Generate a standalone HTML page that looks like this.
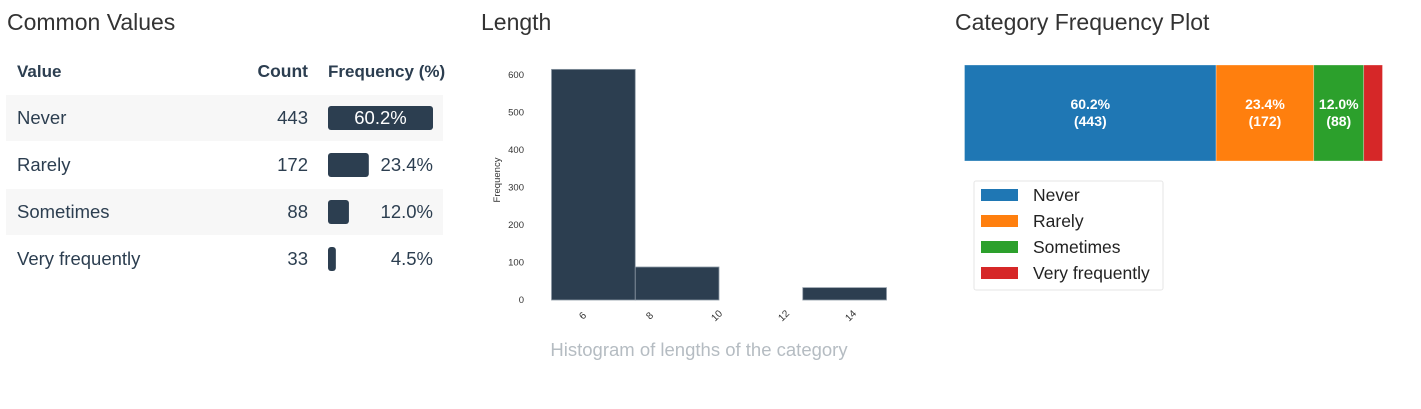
<!DOCTYPE html>
<html><head><meta charset="utf-8"><style>
html,body{margin:0;padding:0;background:#fff;width:1421px;height:409px;overflow:hidden}
svg{display:block}
text{font-family:"Liberation Sans",sans-serif}
</style></head><body>
<svg id="s" width="1421" height="409" xmlns="http://www.w3.org/2000/svg">
<text x="7" y="30" font-size="23" fill="#333">Common Values</text>
<text x="481" y="30" font-size="23" fill="#333">Length</text>
<text x="955" y="30" font-size="23" fill="#333">Category Frequency Plot</text>
<g id="table">
<text x="17" y="77" font-size="17" font-weight="bold" fill="#2c3e50">Value</text>
<text x="308" y="77" font-size="17.5" font-weight="bold" fill="#2c3e50" text-anchor="end">Count</text>
<text x="328" y="77" font-size="17" font-weight="bold" fill="#2c3e50">Frequency (%)</text>
</g>
<g id="hist"></g>
<text x="699" y="356" font-size="18.5" fill="#b5bcc2" text-anchor="middle">Histogram of lengths of the category</text>
<g id="stack"></g>
</svg>
<script>
const NS="http://www.w3.org/2000/svg";
function mk(tag,attrs,parent,txt){const e=document.createElementNS(NS,tag);for(const k in attrs)e.setAttribute(k,attrs[k]);if(txt!==undefined)e.textContent=txt;parent.appendChild(e);return e;}
// ---- data ----
const categories=["Never","Rarely","Sometimes","Very frequently"];
const counts=[443,172,88,33];
const percents=[60.2,23.4,12.0,4.5];
const histBinStarts=[5,7.5,10,12.5];
const histCounts=[615,88,0,33];
const histBinWidth=2.5;
const yTicks=[0,100,200,300,400,500,600];
const xTicks=[6,8,10,12,14];
const colors=["#1f77b4","#ff7f0e","#2ca02c","#d62728"];

// ---- table ----
const tb=document.getElementById('table');
const maxPct=Math.max(...percents);
categories.forEach((c,i)=>{
  const y0=95+i*47;
  if(i%2===0){const r=mk('rect',{x:6,y:y0,width:437,height:46,fill:'#f7f7f7'},tb);
    
    }
  const t=mk('text',{x:17,y:y0+29,'font-size':18.5,fill:'#2c3e50'},tb,c);
  
  
  const n=mk('text',{x:308,y:y0+29,'font-size':18.5,fill:'#2c3e50','text-anchor':'end'},tb,counts[i]);
  
  
  const w=Math.max(7,105*percents[i]/maxPct);
  const b=mk('rect',{x:328,y:y0+11,width:w,height:24,rx:3,fill:'#2c3e50'},tb);
  
  
  const inside=percents[i]===maxPct;
  const p=mk('text',{x:inside?328+w/2:433,y:y0+29,'font-size':18.5,fill:inside?'#fff':'#2c3e50','text-anchor':inside?'middle':'end'},tb,percents[i].toFixed(1)+'%');
  
  
});

// ---- histogram ----
const hg=document.getElementById('hist');
const xS=v=>585+(v-6)*33.5;
const yS=v=>300-v*0.375;
yTicks.forEach(v=>{const t=mk('text',{x:524,y:yS(v)+3,'font-size':9.5,fill:'#333','text-anchor':'end'},hg,v);
  
  });
const yl=mk('text',{x:0,y:0,'font-size':9.5,fill:'#333','text-anchor':'middle',transform:'translate(500,180) rotate(-90)'},hg,'Frequency');


histCounts.forEach((c,i)=>{if(c<=0)return;
  const x0=xS(histBinStarts[i]),x1=xS(histBinStarts[i]+histBinWidth);
  const r=mk('rect',{x:x0,y:yS(c),width:x1-x0,height:yS(0)-yS(c),fill:'#2c3e50',stroke:'#8c98a4','stroke-width':0.8},hg);
  
  });
xTicks.forEach(v=>{const t=mk('text',{x:0,y:0,'font-size':10,fill:'#333','text-anchor':'middle',transform:`translate(${xS(v)},318) rotate(-45)`},hg,v);
  
  });

// ---- stacked bar ----
const sg=document.getElementById('stack');
const total=counts.reduce((a,b)=>a+b,0);
let cx=964.5;const W=418;
counts.forEach((c,i)=>{const w=W*c/total;
  const r=mk('rect',{x:cx,y:65,width:w,height:96,fill:colors[i],stroke:'#fff','stroke-width':0.6,'stroke-opacity':0.5},sg);
  
  
  if(w>40){const t=mk('text',{x:cx+w/2,y:109,'font-size':14,'font-weight':'bold',fill:'#fff','text-anchor':'middle'},sg,percents[i].toFixed(1)+'%');
    
    
    const t2=mk('text',{x:cx+w/2,y:126,'font-size':14,'font-weight':'bold',fill:'#fff','text-anchor':'middle'},sg,'('+c+')');
    
    }
  cx+=w;});
const lb=mk('rect',{x:974,y:181,width:189,height:109,rx:2,fill:'#fff',stroke:'#e6e6e6'},sg);


categories.forEach((c,i)=>{const y=195+i*26;
  const p=mk('rect',{x:981,y:y-6,width:37,height:12,fill:colors[i]},sg);
  
  
  const t=mk('text',{x:1033,y:y+6,'font-size':17.5,fill:'#222'},sg,c);
  
  });
</script>
</body></html>
